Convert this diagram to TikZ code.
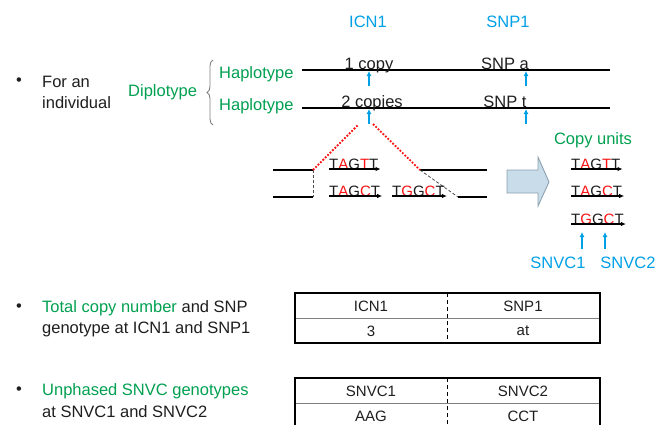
\documentclass[tikz,border=0pt]{standalone}
\usepackage{fontspec}
\setmainfont{Liberation Sans}
\usetikzlibrary{arrows.meta,decorations.pathreplacing}
\definecolor{tgreen}{RGB}{0,160,80}
\definecolor{tblue}{RGB}{0,160,230}
\definecolor{tred}{RGB}{250,20,20}
\definecolor{tink}{RGB}{30,30,30}
\definecolor{bigfill}{RGB}{200,221,233}
\definecolor{bigdraw}{RGB}{140,160,175}
\newcommand\rd[1]{\textcolor{tred}{#1}}
\begin{document}
\begin{tikzpicture}[x=1pt,y=-1pt,
  every node/.style={inner sep=0pt,text=tink,font=\fontsize{16.5}{19}\selectfont},
  grn/.style={text=tgreen},
  blu/.style={text=tblue},
  hline/.style={draw=black,line width=1.4pt},
  uparrow/.style={draw=tblue,line width=1.6pt,-{Latex[length=5pt,width=5pt]}},
  seq/.style={anchor=base west,font=\fontsize{15}{17}\selectfont},
  seqarrow/.style={draw=black,line width=1.1pt,-{Latex[length=5pt,width=4.5pt]}},
  reddot/.style={draw=tred,line width=1.8pt,dash pattern=on 1.8pt off 1.6pt},
  tabtext/.style={font=\fontsize{15}{17}\selectfont},
  tabouter/.style={draw=black,line width=1.5pt},
  tabinner/.style={draw=gray,line width=0.8pt},
  tabdash/.style={draw=black,line width=0.7pt,dash pattern=on 4pt off 3pt}]
\useasboundingbox (0,0) rectangle (657,424);
% header labels
\node[blu] (icn) at (368,22) {ICN1};
\node[blu] (snp) at (508,22) {SNP1};
% first bullet
\node (b1) at (19,82) {\textbullet};
\node[anchor=west] (foran) at (42,82) {For an};
\node[anchor=west] (indiv) at (42,103) {individual};
\node[grn,anchor=west] (diplo) at (128,92) {Diplotype};
\coordinate (brT) at (213,60);
\coordinate (brB) at (213,125);
\draw[gray,line width=0.9pt,decorate,decoration={brace,amplitude=6pt,mirror}] (brT) -- (brB);
\node[grn,anchor=west] (hap1) at (219,74) {Haplotype};
\node[grn,anchor=west] (hap2) at (219,106) {Haplotype};
% haplotype lines
\coordinate (l1s) at (302,70); \coordinate (l1e) at (610,70);
\coordinate (l2s) at (302,108); \coordinate (l2e) at (610,108);
\draw[hline] (l1s) -- (l1e);
\draw[hline] (l2s) -- (l2e);
\node[anchor=base] (c1) at (369,69) {1 copy};
\node[anchor=base] (c2) at (372,107) {2 copies};
\node[anchor=base] (sa) at (505,69) {SNP a};
\node[anchor=base] (st) at (505,107) {SNP t};
\coordinate (a1s) at (369,86); \coordinate (a1e) at (369,71);
\coordinate (a2s) at (369,124); \coordinate (a2e) at (369,109);
\coordinate (a3s) at (526,86); \coordinate (a3e) at (526,71);
\coordinate (a4s) at (526,124); \coordinate (a4e) at (526,109);
\draw[uparrow] (a1s) -- (a1e);
\draw[uparrow] (a2s) -- (a2e);
\draw[uparrow] (a3s) -- (a3e);
\draw[uparrow] (a4s) -- (a4e);
% expanded region
\coordinate (tl1) at (273,170); \coordinate (tl2) at (313,170);
\coordinate (bl1) at (273,197); \coordinate (bl2) at (313,197);
\coordinate (tr1) at (420,170); \coordinate (tr2) at (487,170);
\coordinate (br1) at (458,197); \coordinate (br2) at (487,197);
\coordinate (rdl) at (358,125); \coordinate (rdr) at (373,124);
\draw[hline,line width=1.2pt] (tl1) -- (tl2);
\draw[hline,line width=1.2pt] (bl1) -- (bl2);
\draw[hline,line width=1.2pt] (tr1) -- (tr2);
\draw[hline,line width=1.2pt] (br1) -- (br2);
\draw[black!70,line width=0.8pt,dash pattern=on 3pt off 2pt] (tl2) -- (bl2);
\draw[black!70,line width=0.8pt,dash pattern=on 3pt off 2pt] (tr1) -- (br1);
\draw[reddot] (tl2) -- (rdl);
\draw[reddot] (rdr) -- (tr1);
% sequences in region
\node[seq] (s1) at (329,169) {T\rd{A}G\rd{T}T};
\node[seq] (s2) at (329,196) {T\rd{A}G\rd{C}T};
\node[seq] (s3) at (392,196) {T\rd{G}G\rd{C}T};
\draw[seqarrow] (s1.base west) -- ([xshift=2pt]s1.base east);
\draw[seqarrow] (s2.base west) -- ([xshift=2pt]s2.base east);
\draw[seqarrow] (s3.base west) -- ([xshift=2pt]s3.base east);
% big arrow
\draw[draw=bigdraw,fill=bigfill,line width=0.9pt,line join=miter]
  (507,170) -- (538,170) -- (538,157) -- (549,182) -- (538,206) -- (538,193) -- (507,193) -- cycle;
% copy units
\node[grn] (cu) at (593,140) {Copy units};
\node[seq] (u1) at (571,169) {T\rd{A}G\rd{T}T};
\node[seq] (u2) at (571,196) {T\rd{A}G\rd{C}T};
\node[seq] (u3) at (571,224) {T\rd{G}G\rd{C}T};
\draw[seqarrow] (u1.base west) -- ([xshift=2pt]u1.base east);
\draw[seqarrow] (u2.base west) -- ([xshift=2pt]u2.base east);
\draw[seqarrow] (u3.base west) -- ([xshift=2pt]u3.base east);
\coordinate (v1s) at (582,249); \coordinate (v1e) at (582,232);
\coordinate (v2s) at (605,249); \coordinate (v2e) at (605,232);
\draw[uparrow] (v1s) -- (v1e);
\draw[uparrow] (v2s) -- (v2e);
\node[blu] (snvc1) at (558,263) {SNVC1};
\node[blu] (snvc2) at (628,263) {SNVC2};
% second bullet
\node (b2) at (19,308) {\textbullet};
\node[anchor=west] (t1) at (42,308) {\textcolor{tgreen}{Total copy number} and SNP};
\node[anchor=west] (t2) at (42,329) {genotype at ICN1 and SNP1};
% table 1
\coordinate (T1a) at (295,293); \coordinate (T1b) at (600,343);
\coordinate (T1ml) at (295,318); \coordinate (T1mr) at (600,318);
\coordinate (T1dt) at (447,293); \coordinate (T1db) at (447,343);
\draw[tabinner] (T1ml) -- (T1mr);
\draw[tabdash] (T1dt) -- (T1db);
\draw[tabouter] (T1a) rectangle (T1b);
\node[tabtext] (x11) at (371,306) {ICN1};
\node[tabtext] (x12) at (523,306) {SNP1};
\node[tabtext] (x21) at (371,331) {3};
\node[tabtext] (x22) at (523,331) {at};
% third bullet
\node (b3) at (19,391) {\textbullet};
\node[anchor=west] (u1t) at (42,391) {\textcolor{tgreen}{Unphased SNVC genotypes}};
\node[anchor=west] (u2t) at (42,412) {at SNVC1 and SNVC2};
% table 2
\coordinate (T2a) at (295,378); \coordinate (T2b) at (600,428);
\coordinate (T2ml) at (295,403); \coordinate (T2mr) at (600,403);
\coordinate (T2dt) at (447,378); \coordinate (T2db) at (447,428);
\draw[tabinner] (T2ml) -- (T2mr);
\draw[tabdash] (T2dt) -- (T2db);
\draw[tabouter] (T2a) rectangle (T2b);
\node[tabtext] (y11) at (371,391) {SNVC1};
\node[tabtext] (y12) at (523,391) {SNVC2};
\node[tabtext] (y21) at (371,416) {AAG};
\node[tabtext] (y22) at (523,416) {CCT};
\end{tikzpicture}
\end{document}
